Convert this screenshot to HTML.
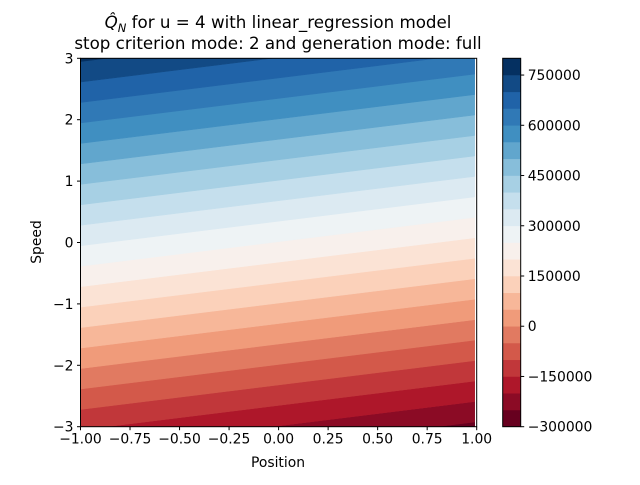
<!DOCTYPE html>
<html><head><meta charset="utf-8"><style>
body{margin:0;background:#fff}
svg text{font-family:"DejaVu Sans","Liberation Sans",sans-serif;fill:#000}
</style></head><body>
<svg id="chart" width="640" height="480" xmlns="http://www.w3.org/2000/svg">
<text x="278" y="28" font-size="16.7" text-anchor="middle"><tspan font-style="italic">Q̂</tspan><tspan font-style="italic" font-size="11.5" dy="4">N</tspan><tspan dy="-4"> for u = 4 with linear_regression model</tspan></text>
<text x="278" y="49" font-size="16.7" text-anchor="middle">stop criterion mode: 2 and generation mode: full</text>
<g id="plot"></g>
<g id="axes"></g>
<g id="cbar"></g>
<text x="278" y="467" font-size="13.9" text-anchor="middle">Position</text>
<text x="0" y="0" font-size="13.9" text-anchor="middle" transform="translate(41,242) rotate(-90)">Speed</text>
</svg>
<script>
const coefIntercept = [248000];
const coefPosition = [-60000];
const coefSpeed = [150000];
const levels = [-300000,-250000,-200000,-150000,-100000,-50000,0,50000,100000,150000,200000,250000,300000,350000,400000,450000,500000,550000,600000,650000,700000,750000,800000];
const xTicks = [-1,-0.75,-0.5,-0.25,0,0.25,0.5,0.75,1];
const xTickLabels = ["−1.00","−0.75","−0.50","−0.25","0.00","0.25","0.50","0.75","1.00"];
const yTicks = [-3,-2,-1,0,1,2,3];
const yTickLabels = ["−3","−2","−1","0","1","2","3"];
const cbTicks = [-300000,-150000,0,150000,300000,450000,600000,750000];
const cbTickLabels = ["−300000","−150000","0","150000","300000","450000","600000","750000"];
const gridX = [-1,0.99];
const gridY = [-3,3];

const NS="http://www.w3.org/2000/svg";
const L=80.5,R=476.7,T=58.3,B=426.7;
const sx=v=>L+(v+1)/2*(R-L);
const sy=v=>B-(v+3)/6*(B-T);
const CL=502.7,CR=520.7;
const cy=v=>B-(v-levels[0])/(levels[levels.length-1]-levels[0])*(B-T);
const Q=(x,y)=>coefIntercept[0]+coefPosition[0]*x+coefSpeed[0]*y;
const rd=["#67001f","#b2182b","#d6604d","#f4a582","#fddbc7","#f7f7f7","#d1e5f0","#92c5de","#4393c3","#2166ac","#053061"];
function hex(h){return [1,3,5].map(i=>parseInt(h.substr(i,2),16));}
function cmap(t){const p=Math.min(10,Math.max(0,t*10)),i=Math.min(9,Math.floor(p)),f=p-i;const a=hex(rd[i]),b=hex(rd[i+1]);return "rgb("+a.map((v,k)=>Math.round(v+(b[k]-v)*f)).join(",")+")";}
function clip(poly,fn){const out=[];for(let i=0;i<poly.length;i++){const a=poly[i],b=poly[(i+1)%poly.length];const fa=fn(a),fb=fn(b);if(fa>=0)out.push(a);if((fa>=0)!==(fb>=0)){const t=fa/(fa-fb);out.push([a[0]+(b[0]-a[0])*t,a[1]+(b[1]-a[1])*t]);}}return out;}
function el(tag,attrs,parent){const e=document.createElementNS(NS,tag);for(const k in attrs)e.setAttribute(k,attrs[k]);parent.appendChild(e);return e;}
const plot=document.getElementById('plot');
const rect=[[gridX[0],gridY[0]],[gridX[1],gridY[0]],[gridX[1],gridY[1]],[gridX[0],gridY[1]]];
const nb=levels.length-1;
const bandColor=i=>cmap(i/(nb-1));
for(let i=0;i<nb;i++){
  const lo=levels[i],hi=levels[i+1];
  let p=clip(rect,q=>Q(q[0],q[1])-lo);
  p=clip(p,q=>hi-Q(q[0],q[1]));
  if(p.length<3)continue;
  const e=el('polygon',{points:p.map(q=>sx(q[0]).toFixed(2)+","+sy(q[1]).toFixed(2)).join(" "),fill:bandColor(i),stroke:bandColor(i),'stroke-width':0.5},plot);
  
  
}
const axes=document.getElementById('axes');
const fr=el('rect',{x:L,y:T,width:R-L,height:B-T,fill:'none',stroke:'#000','stroke-width':1},axes);


xTicks.forEach((v,i)=>{
  const t=el('line',{x1:sx(v),x2:sx(v),y1:B,y2:B+3.5,stroke:'#000'},axes);
  
  
  const tx=el('text',{x:sx(v),y:B+17,'font-size':13.9,'text-anchor':'middle'},axes);tx.textContent=xTickLabels[i];
  
  
});
yTicks.forEach((v,i)=>{
  const t=el('line',{x1:L-3.5,x2:L,y1:sy(v),y2:sy(v),stroke:'#000'},axes);
  
  
  const tx=el('text',{x:L-7,y:sy(v)+5,'font-size':13.9,'text-anchor':'end'},axes);tx.textContent=yTickLabels[i];
  
  
});
const cb=document.getElementById('cbar');
for(let i=0;i<nb;i++){
  const e=el('rect',{x:CL,y:cy(levels[i+1]),width:CR-CL,height:cy(levels[i])-cy(levels[i+1])+0.3,fill:bandColor(i)},cb);
  
  
}
const cf=el('rect',{x:CL,y:T,width:CR-CL,height:B-T,fill:'none',stroke:'#000'},cb);


cbTicks.forEach((v,i)=>{
  const t=el('line',{x1:CR,x2:CR+3.5,y1:cy(v),y2:cy(v),stroke:'#000'},cb);
  
  
  const tx=el('text',{x:CR+7,y:cy(v)+5,'font-size':13.9},cb);tx.textContent=cbTickLabels[i];
  
  
});
</script>
</body></html>
